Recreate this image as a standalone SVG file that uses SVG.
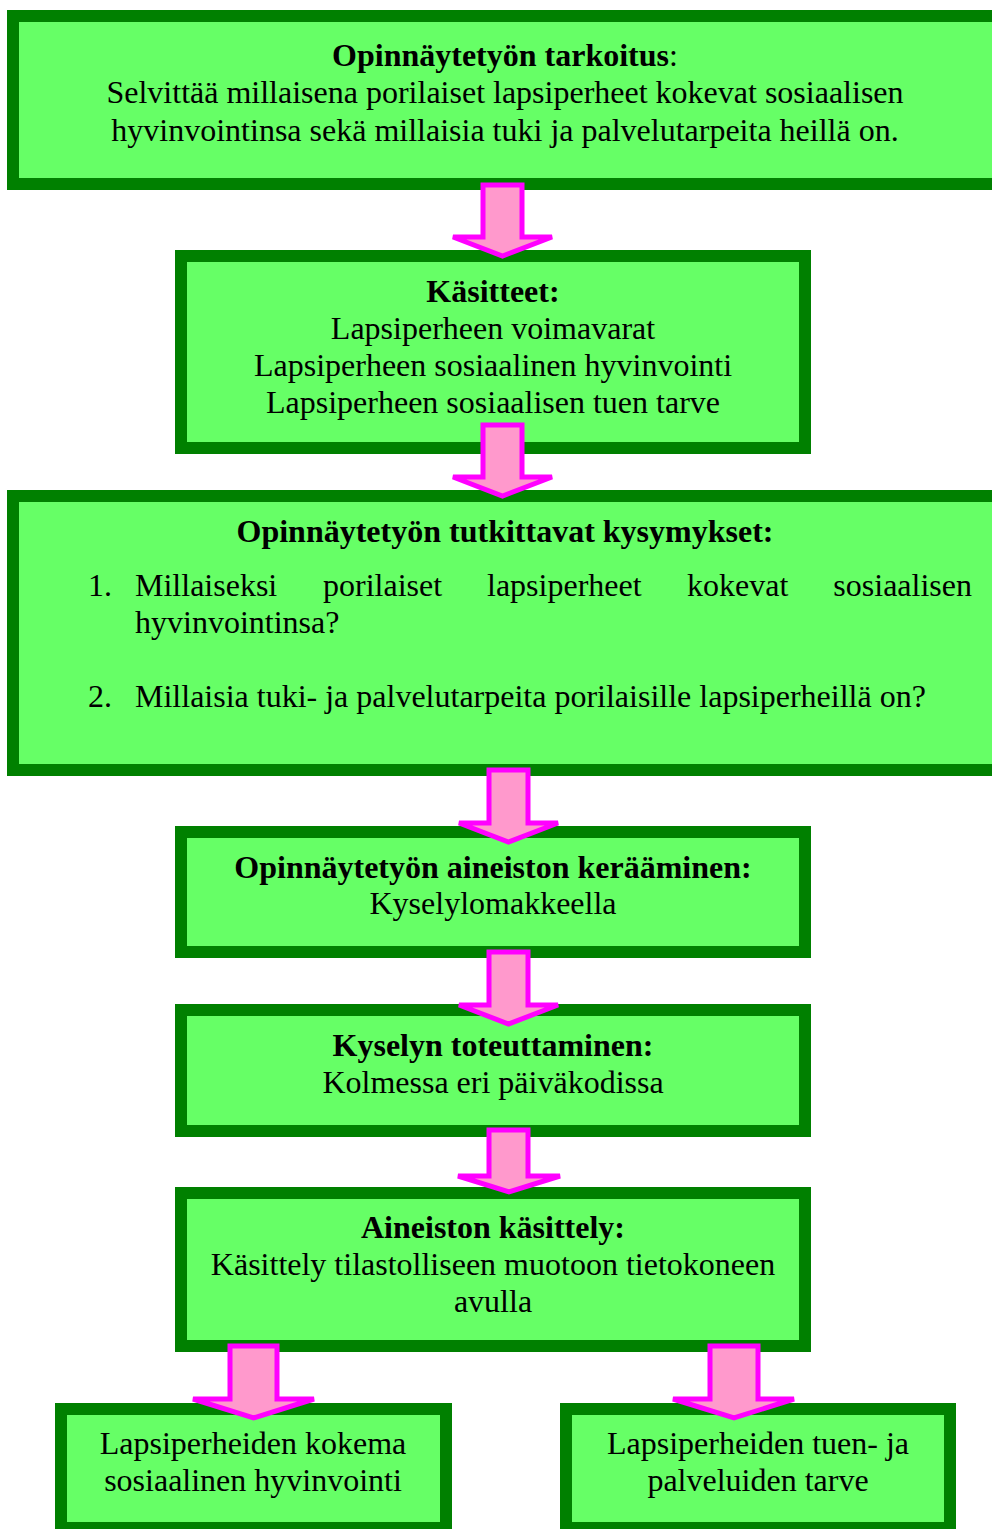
<svg xmlns="http://www.w3.org/2000/svg" width="992" height="1529" viewBox="0 0 992 1529">
<style>
.box{fill:#66FF66;stroke:#008000;stroke-width:12}
.arr{fill:#FF99CC;stroke:#FF00FF;stroke-width:5;stroke-linejoin:miter;stroke-miterlimit:4}
text{font-family:"Liberation Serif","Times New Roman",serif;font-size:32px;fill:#000}
.c{text-anchor:middle}
.b{font-weight:bold}
</style>
<rect width="992" height="1529" fill="#fff"/>
<g id="n1">
<rect class="box" x="13" y="16" width="985" height="168"/>
<text class="c" x="505" y="66"><tspan class="b">Opinnäytetyön tarkoitus</tspan>:</text>
<text class="c" x="505" y="103">Selvittää millaisena porilaiset lapsiperheet kokevat sosiaalisen</text>
<text class="c" x="505" y="141">hyvinvointinsa sekä millaisia tuki ja palvelutarpeita heillä on.</text>
</g>
<g id="n2">
<rect class="box" x="181" y="256" width="624" height="192"/>
<text class="c b" x="493" y="302">Käsitteet:</text>
<text class="c" x="493" y="339">Lapsiperheen voimavarat</text>
<text class="c" x="493" y="376">Lapsiperheen sosiaalinen hyvinvointi</text>
<text class="c" x="493" y="413">Lapsiperheen sosiaalisen tuen tarve</text>
</g>
<g id="n3">
<rect class="box" x="13" y="496" width="985" height="274"/>
<text class="c b" x="505" y="542">Opinnäytetyön tutkittavat kysymykset:</text>
<text x="88" y="596">1.</text>
<text x="135" y="596">Millaiseksi</text>
<text x="323" y="596">porilaiset</text>
<text x="487" y="596">lapsiperheet</text>
<text x="687" y="596">kokevat</text>
<text x="972" y="596" text-anchor="end">sosiaalisen</text>
<text x="135" y="633">hyvinvointinsa?</text>
<text x="88" y="707">2.</text>
<text x="135" y="707">Millaisia tuki- ja palvelutarpeita porilaisille lapsiperheillä on?</text>
</g>
<g id="n4">
<rect class="box" x="181" y="832" width="624" height="120"/>
<text class="c b" x="493" y="878">Opinnäytetyön aineiston kerääminen:</text>
<text class="c" x="493" y="914">Kyselylomakkeella</text>
</g>
<g id="n5">
<rect class="box" x="181" y="1010" width="624" height="121"/>
<text class="c b" x="493" y="1056">Kyselyn toteuttaminen:</text>
<text class="c" x="493" y="1093">Kolmessa eri päiväkodissa</text>
</g>
<g id="n6">
<rect class="box" x="181" y="1193" width="624" height="153"/>
<text class="c b" x="493" y="1238">Aineiston käsittely:</text>
<text class="c" x="493" y="1275">Käsittely tilastolliseen muotoon tietokoneen</text>
<text class="c" x="493" y="1312">avulla</text>
</g>
<g id="n7">
<rect class="box" x="61" y="1409" width="385" height="119"/>
<text class="c" x="253" y="1454">Lapsiperheiden kokema</text>
<text class="c" x="253" y="1491">sosiaalinen hyvinvointi</text>
</g>
<g id="n8">
<rect class="box" x="566" y="1409" width="384" height="119"/>
<text class="c" x="758" y="1454">Lapsiperheiden tuen- ja</text>
<text class="c" x="758" y="1491">palveluiden tarve</text>
</g>
<g id="connectors">
<polygon class="arr" points="483,185 522,185 522,237 552,237 502.5,256 453,237 483,237"/>
<polygon class="arr" points="483,425 522,425 522,477 552,477 502.5,496 453,477 483,477"/>
<polygon class="arr" points="489,770 528,770 528,823 558,823 508.5,842 459,823 489,823"/>
<polygon class="arr" points="489,952 528,952 528,1005 558,1005 508.5,1024 459,1005 489,1005"/>
<polygon class="arr" points="489,1130 528,1130 528,1176 560,1176 509,1192 458,1176 489,1176"/>
<polygon class="arr" points="230,1346 277,1346 277,1399 314,1399 253.5,1418 193,1399 230,1399"/>
<polygon class="arr" points="710,1346 758,1346 758,1399 794,1399 734,1418 673,1399 710,1399"/>
</g>
</svg>
